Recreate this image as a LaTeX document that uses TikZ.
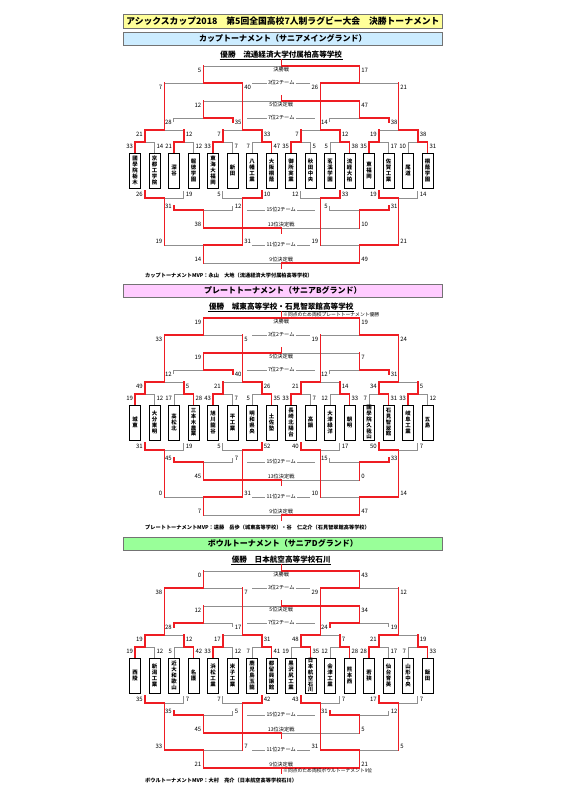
\documentclass[tikz,border=0pt]{standalone}
\usepackage{fontspec}
\setmainfont{Noto Sans CJK JP}
\usetikzlibrary{backgrounds}
\XeTeXlinebreaklocale "ja"
\XeTeXlinebreakskip=0pt plus 1pt
\definecolor{winred}{HTML}{EE1D23}
\definecolor{loseg}{HTML}{8F8F8F}
\definecolor{titlebg}{HTML}{FFFF99}
\definecolor{cupbg}{HTML}{CCECFF}
\definecolor{platebg}{HTML}{FFCCFF}
\definecolor{bowlbg}{HTML}{99FF99}

\tikzset{
  win/.style={draw=winred, line width=1.5pt, line cap=rect},
  lose/.style={draw=loseg, line width=0.8pt},
  score/.style={font=\fontsize{6}{7}\selectfont, inner sep=0.3pt},
  team/.style={draw, line width=1pt, fill=white, minimum width=11pt, minimum height=35pt,
    inner sep=0pt, text width=6pt, align=center, font=\fontsize{5.4}{5.8}\selectfont\bfseries},
  hdrbox/.style={draw=black!55, line width=0.8pt, anchor=north west, minimum width=319pt,
    minimum height=12.5pt, inner sep=0pt, font=\fontsize{8}{9}\selectfont\bfseries},
  champ/.style={font=\fontsize{7.6}{9}\selectfont\bfseries, inner sep=0.6pt},
  midlab/.style={font=\fontsize{5.2}{6}\selectfont, inner sep=1.2pt},
  mvpline/.style={font=\fontsize{5.2}{6}\selectfont\bfseries, anchor=west, inner sep=0pt},
  note/.style={font=\fontsize{4.8}{5.5}\selectfont, anchor=west, inner sep=0pt}
}

\newcount\nsc
% one match: entry flag, x left, x right, y of bar, y of feet, left score, right score
\newcommand{\bout}[7]{%
  \pgfmathsetmacro{\xl}{#2}\pgfmathsetmacro{\xr}{#3}%
  \pgfmathsetmacro{\yl}{#4}\pgfmathsetmacro{\yf}{#5}%
  \pgfmathsetmacro{\xm}{(\xl+\xr)/2}%
  \pgfmathsetmacro{\ly}{\yl+4*sign(\yf-\yl)}%
  \begin{pgfonlayer}{background}
    \draw[lose] (\xl,\yf) -- (\xl,\yl) -- (\xr,\yl) -- (\xr,\yf);
  \end{pgfonlayer}
  \ifnum#6<#7\relax\else\draw[win] (\xl,\yf) -- (\xl,\yl) -- (\xm,\yl);\fi
  \ifnum#6>#7\relax\else\draw[win] (\xr,\yf) -- (\xr,\yl) -- (\xm,\yl);\fi
  \ifnum#1=0\relax\draw[win] (\xl,\yf) -- (\xl,\yl) (\xr,\yf) -- (\xr,\yl);\fi
  \global\advance\nsc by 1
  \node[score, anchor=east] (s\the\nsc l) at (\xl-1.5,\ly) {#6};
  \node[score, anchor=west] (s\the\nsc r) at (\xr+1.5,\ly) {#7};
}
% label with a dash on both sides
\newcommand{\dashlab}[4]{%
  \node[midlab] (#1) at (281.25,#2) {#4};
  \draw[lose] (281.25-#3,#2) -- (#1.west) (#1.east) -- (281.25+#3,#2);
}
% whole bracket of one section, #1 = top of the team boxes
\newcommand{\drawbracket}[1]{%
  \pgfmathsetmacro{\Btop}{#1}%
  \pgfmathsetmacro{\Bbot}{#1+35}%
  \node[hdrbox, fill=\hdrcol] (\sect hdr) at (123,\Btop-121) {\hdr};
  \node[champ] (\sect win) at (281.25,\Btop-98) {\champ};
  \draw[line width=0.6pt] (\sect win.south west) -- (\sect win.south east);
  % winners side
  \foreach \scL/\scR [count=\i from 0] in \rA {\bout{1}{135+39*\i}{154.5+39*\i}{\Btop-11}{\Btop}{\scL}{\scR}}
  \foreach \scL/\scR [count=\i from 0] in \rB {\bout{0}{144.75+78*\i}{183.75+78*\i}{\Btop-23}{\Btop-11}{\scL}{\scR}}
  \foreach \scL/\scR [count=\i from 0] in \rC {\bout{0}{164.25+156*\i}{242.25+156*\i}{\Btop-70}{\Btop-23}{\scL}{\scR}}
  \foreach \scL/\scR in \rD {\bout{0}{203.25}{359.25}{\Btop-87}{\Btop-70}{\scL}{\scR}}
  \foreach \scL/\scR [count=\i from 0] in \rE {\bout{1}{173.75+156*\i}{232.75+156*\i}{\Btop-35}{\Btop-31}{\scL}{\scR}}
  \foreach \scL/\scR in \rF {\bout{0}{203.25}{359.25}{\Btop-52}{\Btop-35}{\scL}{\scR}}
  % losers side
  \foreach \scL/\scR [count=\i from 0] in \rG {\bout{1}{144.75+78*\i}{183.75+78*\i}{\Bbot+10}{\Bbot+3}{\scL}{\scR}}
  \foreach \scL/\scR [count=\i from 0] in \rH {\bout{1}{173.75+156*\i}{232.75+156*\i}{\Bbot+22}{\Bbot+18}{\scL}{\scR}}
  \foreach \scL/\scR [count=\i from 0] in \rI {\bout{0}{164.25+156*\i}{242.25+156*\i}{\Bbot+57}{\Bbot+10}{\scL}{\scR}}
  \foreach \scL/\scR in \rJ {\bout{0}{203.25}{359.25}{\Bbot+40}{\Bbot+22}{\scL}{\scR}}
  \foreach \scL/\scR in \rK {\bout{0}{203.25}{359.25}{\Bbot+75}{\Bbot+57}{\scL}{\scR}}
  \draw[win] (281.25,\Btop-87) -- (281.25,\Btop-93);
  \draw[win] (281.25,\Btop-52) -- (281.25,\Btop-57);
  \draw[win] (281.25,\Bbot+40) -- (281.25,\Bbot+45);
  \draw[win] (281.25,\Bbot+75) -- (281.25,\Bbot+80);
  % round labels
  \node[midlab] (\sect fin) at (281.25,\Btop-83) {決勝戦};
  \dashlab{\sect m3}{\Btop-70}{29}{3位2チーム}
  \node[midlab] (\sect fifth) at (281.25,\Btop-48.5) {5位決定戦};
  \dashlab{\sect m7}{\Btop-35}{34}{7位2チーム}
  \dashlab{\sect m15}{\Bbot+22}{34}{15位2チーム}
  \node[midlab] (\sect thirteenth) at (281.25,\Bbot+36.5) {13位決定戦};
  \dashlab{\sect m11}{\Bbot+57}{29}{11位2チーム}
  \node[midlab] (\sect ninth) at (281.25,\Bbot+71.5) {9位決定戦};
  % teams
  \foreach \tm [count=\i from 0] in \teams {\node[team] (\sect\i) at ({135+19.5*\i},\Btop+17.5) {\tm};}
  \node[mvpline] (\sect mvp) at (145,\Btop+123) {\mvp};
}

\begin{document}
\begin{tikzpicture}[x=1pt, y=-1pt]
  \begin{pgfonlayer}{background}
    \fill[white] (0,0) rectangle (562,795);
  \end{pgfonlayer}
  \useasboundingbox (0,0) rectangle (562,795);
  \node[hdrbox, fill=titlebg, minimum height=14pt, font=\fontsize{8.8}{10}\selectfont\bfseries] (title) at (123,14)
    {アシックスカップ2018　第5回全国高校7人制ラグビー大会　決勝トーナメント};

  % cup
  \def\sect{cup}
  \def\hdrcol{cupbg}
  \def\hdr{カップトーナメント（サニアメイングランド）}
  \def\champ{優勝　流通経済大学付属柏高等学校}
  \def\mvp{カップトーナメントMVP：永山　大地（流通経済大学付属柏高等学校）}
  \def\teams{國學院栃木,京都工学院,深谷,報徳学園,東海大福岡,新田,八幡工業,大阪桐蔭,御所実業,秋田中央,茗溪学園,流経大柏,東福岡,佐賀工業,尾道,桐蔭学園}
  \def\rA{33/14,21/12,33/7,7/47,35/5,5/38,35/17,10/31}
  \def\rB{21/12,7/33,7/12,19/38}
  \def\rC{7/40,26/21}
  \def\rD{5/17}
  \def\rE{28/35,14/38}
  \def\rF{12/47}
  \def\rG{26/19,5/10,12/33,19/14}
  \def\rH{31/12,5/31}
  \def\rI{19/31,19/21}
  \def\rJ{38/10}
  \def\rK{14/49}
  \drawbracket{153}

  % plate
  \def\sect{plate}
  \def\hdrcol{platebg}
  \def\hdr{プレートトーナメント（サニアBグランド）}
  \def\champ{優勝　城東高等学校・石見智翠館高等学校}
  \def\mvp{プレートトーナメントMVP：遠藤　岳歩（城東高等学校）・谷　仁之介（石見智翠館高等学校）}
  \def\teams{城東,大分東明,高松北,三本木農業,旭川龍谷,平工業,明和県央,土佐塾,長崎北陽台,高鍋,大津緑洋,朝明,國學院久我山,石見智翠館,岐阜工業,五島}
  \def\rA{19/12,17/28,43/7,5/35,33/7,12/33,7/31,33/12}
  \def\rB{49/5,21/26,21/14,34/5}
  \def\rC{33/5,19/24}
  \def\rD{19/19}
  \def\rE{12/40,12/31}
  \def\rF{19/7}
  \def\rG{31/19,5/52,40/17,50/7}
  \def\rH{45/7,15/33}
  \def\rI{0/31,10/14}
  \def\rJ{45/0}
  \def\rK{7/47}
  \drawbracket{405}
  \node[note] (platenote) at (283,315) {※同点のため両校プレートトーナメント優勝};

  % bowl
  \def\sect{bowl}
  \def\hdrcol{bowlbg}
  \def\hdr{ボウルトーナメント（サニアDグランド）}
  \def\champ{優勝　日本航空高等学校石川}
  \def\mvp{ボウルトーナメントMVP：大村　亮介（日本航空高等学校石川）}
  \def\teams{西陵,新潟工業,近大和歌山,名護,浜松工業,米子工業,鹿児島玉龍,都留興譲館,黒沢尻工業,日本航空石川,会津工業,熊本西,若狭,仙台育英,山形中央,飯田}
  \def\rA{19/12,5/42,33/12,7/41,19/35,12/28,28/17,7/33}
  \def\rB{19/12,17/31,48/7,21/19}
  \def\rC{38/7,29/12}
  \def\rD{0/43}
  \def\rE{28/17,24/19}
  \def\rF{12/34}
  \def\rG{35/7,7/42,43/7,17/7}
  \def\rH{35/5,31/12}
  \def\rI{33/7,31/5}
  \def\rJ{45/5}
  \def\rK{21/21}
  \drawbracket{658}
  \node[note] (bowlnote) at (283,770.5) {※同点のため両校ボウルトーナメント9位};
\end{tikzpicture}
\end{document}
